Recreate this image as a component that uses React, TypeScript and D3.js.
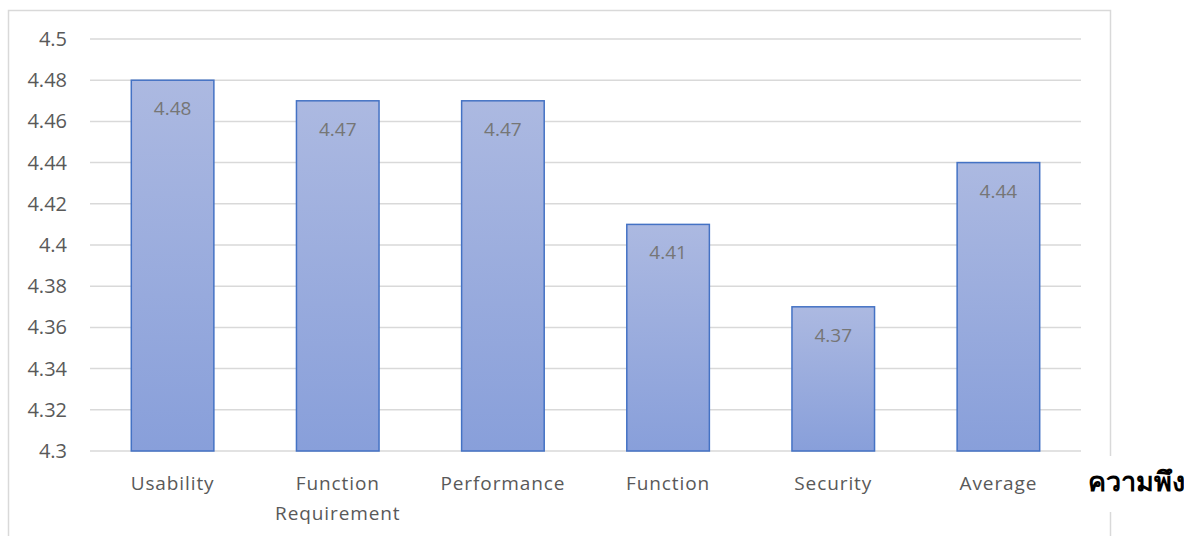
import React, { useEffect, useRef } from "react";
import * as d3 from "d3";

const categories = ["Usability", "Function Requirement", "Performance", "Function", "Security", "Average"];
const categoryLines = [["Usability"], ["Function", "Requirement"], ["Performance"], ["Function"], ["Security"], ["Average"]];
const values = [4.48, 4.47, 4.47, 4.41, 4.37, 4.44];
const yTicks = [4.3, 4.32, 4.34, 4.36, 4.38, 4.4, 4.42, 4.44, 4.46, 4.48, 4.5];
const sideLabel = "ความพึง";

const App = () => {
  const ref = useRef<SVGSVGElement>(null);

  useEffect(() => {
    const svg = d3.select(ref.current);
    svg.selectAll("*").remove();
    const font = "'Open Sans', sans-serif";

    const left = 90;
    const right = 1081;
    const top = 39;
    const bottom = 451;

    const x = d3.scaleBand().domain(categories).range([left, right]).paddingInner(0.5).paddingOuter(0.25);
    const y = d3.scaleLinear().domain([4.3, 4.5]).range([bottom, top]);

    const defs = svg.append("defs");
    const grad = defs
      .append("linearGradient")
      .attr("id", "barGrad")
      .attr("x1", "0%")
      .attr("y1", "0%")
      .attr("x2", "0%")
      .attr("y2", "100%");
    grad.append("stop").attr("offset", "0%").attr("stop-color", "#acb9e1");
    grad.append("stop").attr("offset", "100%").attr("stop-color", "#889fda");

    // chart border
    svg
      .append("rect")
      .attr("x", 8.5)
      .attr("y", 10.5)
      .attr("width", 1102)
      .attr("height", 560)
      .attr("fill", "white")
      .attr("stroke", "#d9d9d9")
      .attr("stroke-width", 1.5);

    // gridlines
    svg
      .append("g")
      .selectAll("line")
      .data(yTicks)
      .enter()
      .append("line")
      .attr("x1", left)
      .attr("x2", right)
      .attr("y1", (d) => y(d))
      .attr("y2", (d) => y(d))
      .attr("stroke", "#d9d9d9")
      .attr("stroke-width", 1.5);

    // y tick labels
    svg
      .append("g")
      .selectAll("text")
      .data(yTicks)
      .enter()
      .append("text")
      .attr("x", 67)
      .attr("y", (d) => y(d) + 7)
      .attr("text-anchor", "end")
      .attr("fill", "#595959")
      .style("font-family", font)
      .style("font-size", "20px")
      .text((d) => String(d));

    // bars
    const bw = x.bandwidth();
    svg
      .append("g")
      .selectAll("rect")
      .data(values)
      .enter()
      .append("rect")
      .attr("x", (d, i) => x(categories[i])!)
      .attr("y", (d) => y(d))
      .attr("width", bw)
      .attr("height", (d) => bottom - y(d))
      .attr("fill", "url(#barGrad)")
      .attr("stroke", "#4472c4")
      .attr("stroke-width", 1.5);

    // value labels
    svg
      .append("g")
      .selectAll("text")
      .data(values)
      .enter()
      .append("text")
      .attr("x", (d, i) => x(categories[i])! + bw / 2)
      .attr("y", (d) => y(d) + 35)
      .attr("text-anchor", "middle")
      .attr("fill", "#767676")
      .style("font-family", font)
      .style("font-size", "19px")
      .text((d) => d.toFixed(2));

    // category labels
    const cat = svg
      .append("g")
      .selectAll("text")
      .data(categories)
      .enter()
      .append("text")
      .attr("text-anchor", "middle")
      .attr("fill", "#595959")
      .style("font-family", font)
      .style("font-size", "19px")
      .style("letter-spacing", "0.9px");
    cat
      .selectAll("tspan")
      .data((d, i) => categoryLines[i].map((t) => ({ t, c: d })))
      .enter()
      .append("tspan")
      .attr("x", (d) => x(d.c)! + bw / 2)
      .attr("y", (d, j) => 490 + j * 30)
      .text((d) => d.t);

    // side label with white backing
    svg.append("rect").attr("x", 1086).attr("y", 456).attr("width", 98).attr("height", 56).attr("fill", "white");
    svg
      .append("text")
      .attr("x", 1088)
      .attr("y", 491)
      .attr("fill", "#000")
      .style("font-family", "'Noto Sans', 'DejaVu Sans', sans-serif")
      .style("font-size", "27px")
      .style("font-weight", "bold")
      .text(sideLabel);
  }, []);

  return (
    <svg
      ref={ref}
      width={1184}
      height={536}
      style={{ position: "absolute", left: 0, top: 0, background: "white" }}
    ></svg>
  );
};

export default App;
